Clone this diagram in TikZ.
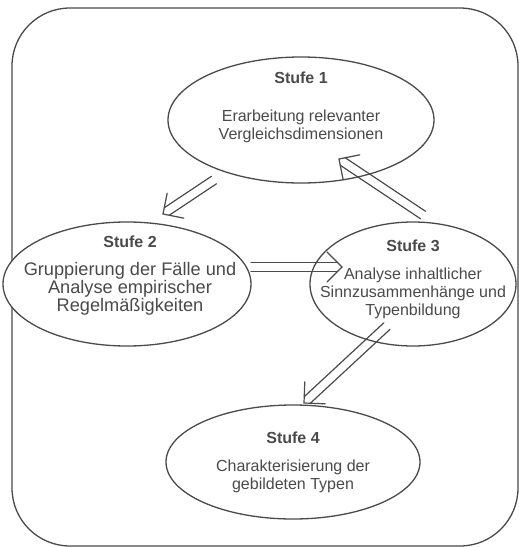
\documentclass[tikz,border=0pt]{standalone}
\usepackage{fontspec}
\setmainfont{Liberation Sans}
\usetikzlibrary{calc,shapes.geometric}
\definecolor{ink}{HTML}{4A4A4A}
\newcommand{\hollowarrow}[2]{%
  \coordinate (hb) at ($(#2)!15pt!(#1)$);
  \coordinate (hm) at ($(#2)!4.5pt!(#1)$);
  \draw[arrowline] ($(#1)!4.5pt!90:(#2)$) -- ($(hm)!4.5pt!90:(#2)$);
  \draw[arrowline] ($(#1)!4.5pt!-90:(#2)$) -- ($(hm)!4.5pt!-90:(#2)$);
  \draw[arrowline] ($(hb)!15pt!90:(#2)$) -- (#2) -- ($(hb)!15pt!-90:(#2)$);
}
\begin{document}
\begin{tikzpicture}[x=1pt,y=-1pt,
  stage/.style={draw=ink, line width=1.3pt, ellipse, inner sep=0pt, fill=white},
  label/.style={text=ink, align=center, font=\fontsize{16}{18}\selectfont},
  arrowline/.style={draw=ink, line width=1.2pt, line cap=round, line join=miter}
]
\useasboundingbox (0,0) rectangle (519,547);
\draw[ink, line width=1.3pt, rounded corners=58pt] (12,8) rectangle (518,546);

\node[stage, minimum width=266pt, minimum height=126pt] (e1) at (301,120) {};
\node[stage, minimum width=248pt, minimum height=124pt] (e2) at (127,284) {};
\node[stage, minimum width=206pt, minimum height=124pt] (e3) at (413,284) {};
\node[stage, minimum width=254pt, minimum height=114pt] (e4) at (293,462) {};

\node[label] (s1) at (301,107) {\textbf{Stufe 1}\\[20pt]Erarbeitung relevanter\\Vergleichsdimensionen};
\node[label] (s2) at (130,276) {\textbf{Stufe 2}\\[10pt]{\fontsize{18.2}{18}\selectfont Gruppierung der Fälle und}\\{\fontsize{18.2}{18}\selectfont Analyse empirischer}\\{\fontsize{18.2}{18}\selectfont Regelmäßigkeiten}};
\node[label] (s3) at (413,279) {\textbf{Stufe 3}\\[10pt]Analyse inhaltlicher\\Sinnzusammenhänge und\\Typenbildung};
\node[label] (s4) at (293,462) {\textbf{Stufe 4}\\[10pt]Charakterisierung der\\gebildeten Typen};

\coordinate (a1s) at (214,180);
\coordinate (a1e) at (163,214);
\coordinate (a2s) at (251,267);
\coordinate (a2e) at (342,267);
\coordinate (a3s) at (423,215);
\coordinate (a3e) at (339,159);
\coordinate (a4s) at (387,326);
\coordinate (a4e) at (304,403);
\hollowarrow{a1s}{a1e}
\hollowarrow{a2s}{a2e}
\hollowarrow{a3s}{a3e}
\hollowarrow{a4s}{a4e}
\end{tikzpicture}
\end{document}
